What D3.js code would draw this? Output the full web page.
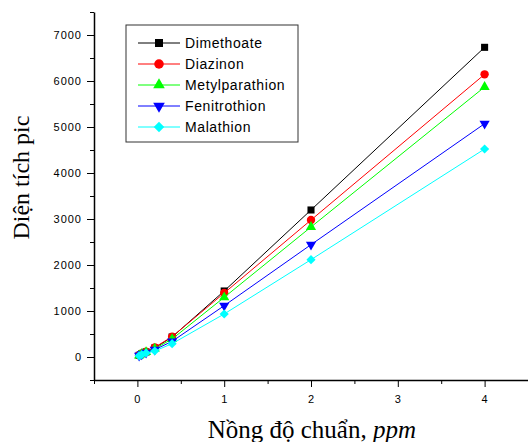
<!DOCTYPE html>
<html>
<head>
<meta charset="utf-8">
<script src="https://cdn.jsdelivr.net/npm/d3@7"></script>
<style>
  body { margin: 0; background: #fff; }
  svg { display: block; }
</style>
</head>
<body>
<div id="chart"></div>
<script>
// concentrations (ppm) and peak areas
const concentrations = [0.02, 0.05, 0.1, 0.2, 0.4, 1, 2, 4];
const dimethoate     = [35, 70, 110, 196, 435, 1435, 3196, 6732];
const diazinon       = [38, 75, 116, 210, 442, 1391, 2978, 6145];
const metylparathion = [33, 66, 105, 181, 391, 1297, 2826, 5870];
const fenitrothion   = [30, 60, 95, 160, 340, 1116, 2442, 5072];
const malathion      = [25, 51, 87, 130, 290, 935, 2116, 4522];

const seriesNames = ["Dimethoate", "Diazinon", "Metylparathion", "Fenitrothion", "Malathion"];
const seriesValues = [dimethoate, diazinon, metylparathion, fenitrothion, malathion];
const seriesColors = ["#000000", "#ff0000", "#00ff00", "#0000ff", "#00ffff"];
const seriesSymbols = [d3.symbolSquare, d3.symbolCircle, d3.symbolTriangle, d3.symbolTriangle, d3.symbolSquare];
const symbolSizes = [50, 55, 45, 45, 42];
const symbolRotate = [0, 0, 0, 180, 45];

const yMajor = [0, 1000, 2000, 3000, 4000, 5000, 6000, 7000];
const xMajor = [0, 1, 2, 3, 4];

const width = 528, height = 442;
const margin = { top: 12, right: 0, bottom: 62, left: 94 };

const svg = d3.select("#chart").append("svg")
  .attr("width", width)
  .attr("height", height);

const x = d3.scaleLinear().domain([-0.5, 4.5]).range([margin.left, width - margin.right]);
const y = d3.scaleLinear().domain([-500, 7500]).range([height - margin.bottom, margin.top]);

const tickFont = "'Liberation Sans', Arial, sans-serif";

// minor ticks
const yMinor = d3.range(-500, 7501, 500).filter(v => v % 1000 !== 0);
const xMinor = d3.range(-0.5, 4.51, 0.5).filter(v => v % 1 !== 0);

svg.append("g")
  .attr("transform", `translate(${margin.left},0)`)
  .call(d3.axisLeft(y).tickValues(yMinor).tickSize(4).tickFormat(""))
  .call(g => g.select(".domain").remove());

svg.append("g")
  .attr("transform", `translate(0,${height - margin.bottom})`)
  .call(d3.axisBottom(x).tickValues(xMinor).tickSize(4).tickFormat(""))
  .call(g => g.select(".domain").remove());

// major axes
const yAxis = svg.append("g")
  .attr("transform", `translate(${margin.left},0)`)
  .call(d3.axisLeft(y).tickValues(yMajor).tickSize(7).tickPadding(5).tickSizeOuter(0).tickFormat(d3.format("d")));

const xAxis = svg.append("g")
  .attr("transform", `translate(0,${height - margin.bottom})`)
  .call(d3.axisBottom(x).tickValues(xMajor).tickSize(7).tickPadding(8).tickSizeOuter(0).tickFormat(d3.format("d")));

[yAxis, xAxis].forEach(g => {
  g.select(".domain").attr("stroke-width", 1.5);
  g.selectAll(".tick line").attr("stroke-width", 1);
  g.selectAll("text")
    .attr("fill", "#000")
    .style("font-family", tickFont)
    .style("font-size", "11px")
    .style("letter-spacing", "1px");
});
svg.selectAll(".tick line").attr("stroke", "#000");

// series
const line = d3.line()
  .x((d, i) => x(concentrations[i]))
  .y(d => y(d));

seriesValues.forEach((vals, s) => {
  svg.append("path")
    .datum(vals)
    .attr("d", line)
    .attr("fill", "none")
    .attr("stroke", seriesColors[s])
    .attr("stroke-width", 1);

  const sym = d3.symbol().type(seriesSymbols[s]).size(symbolSizes[s]);
  svg.append("g").selectAll("path")
    .data(vals)
    .enter()
    .append("path")
    .attr("d", sym)
    .attr("transform", (d, i) => `translate(${x(concentrations[i])},${y(d)}) rotate(${symbolRotate[s]})`)
    .attr("fill", seriesColors[s]);
});

// legend
const legend = svg.append("g").attr("transform", "translate(126,25)");
legend.append("rect")
  .attr("width", 172)
  .attr("height", 117)
  .attr("fill", "#fff")
  .attr("stroke", "#333")
  .attr("stroke-width", 1);

seriesNames.forEach((name, s) => {
  const ly = 18 + s * 21;
  legend.append("line")
    .attr("x1", 12).attr("x2", 54)
    .attr("y1", ly).attr("y2", ly)
    .attr("stroke", seriesColors[s])
    .attr("stroke-width", 1);
  legend.append("path")
    .attr("d", d3.symbol().type(seriesSymbols[s]).size(symbolSizes[s] * 1.3))
    .attr("transform", `translate(33,${ly}) rotate(${symbolRotate[s]})`)
    .attr("fill", seriesColors[s]);
  legend.append("text")
    .attr("x", 59)
    .attr("y", ly)
    .attr("dy", "0.36em")
    .style("font-family", tickFont)
    .style("font-size", "14px")
    .style("letter-spacing", "0.6px")
    .text(name);
});

// axis titles
svg.append("text")
  .attr("transform", `translate(29,${y(3900)}) rotate(-90)`)
  .attr("text-anchor", "middle")
  .style("font-family", "'Liberation Serif', 'Times New Roman', serif")
  .style("font-size", "24px")
  .text("Diện tích pic");

const xTitle = svg.append("text")
  .attr("x", x(2.01))
  .attr("y", 438)
  .attr("text-anchor", "middle")
  .style("font-family", "'Liberation Serif', 'Times New Roman', serif")
  .style("font-size", "25px");
xTitle.append("tspan").text("Nồng độ chuẩn, ");
xTitle.append("tspan").style("font-style", "italic").text("ppm");
</script>
</body>
</html>
